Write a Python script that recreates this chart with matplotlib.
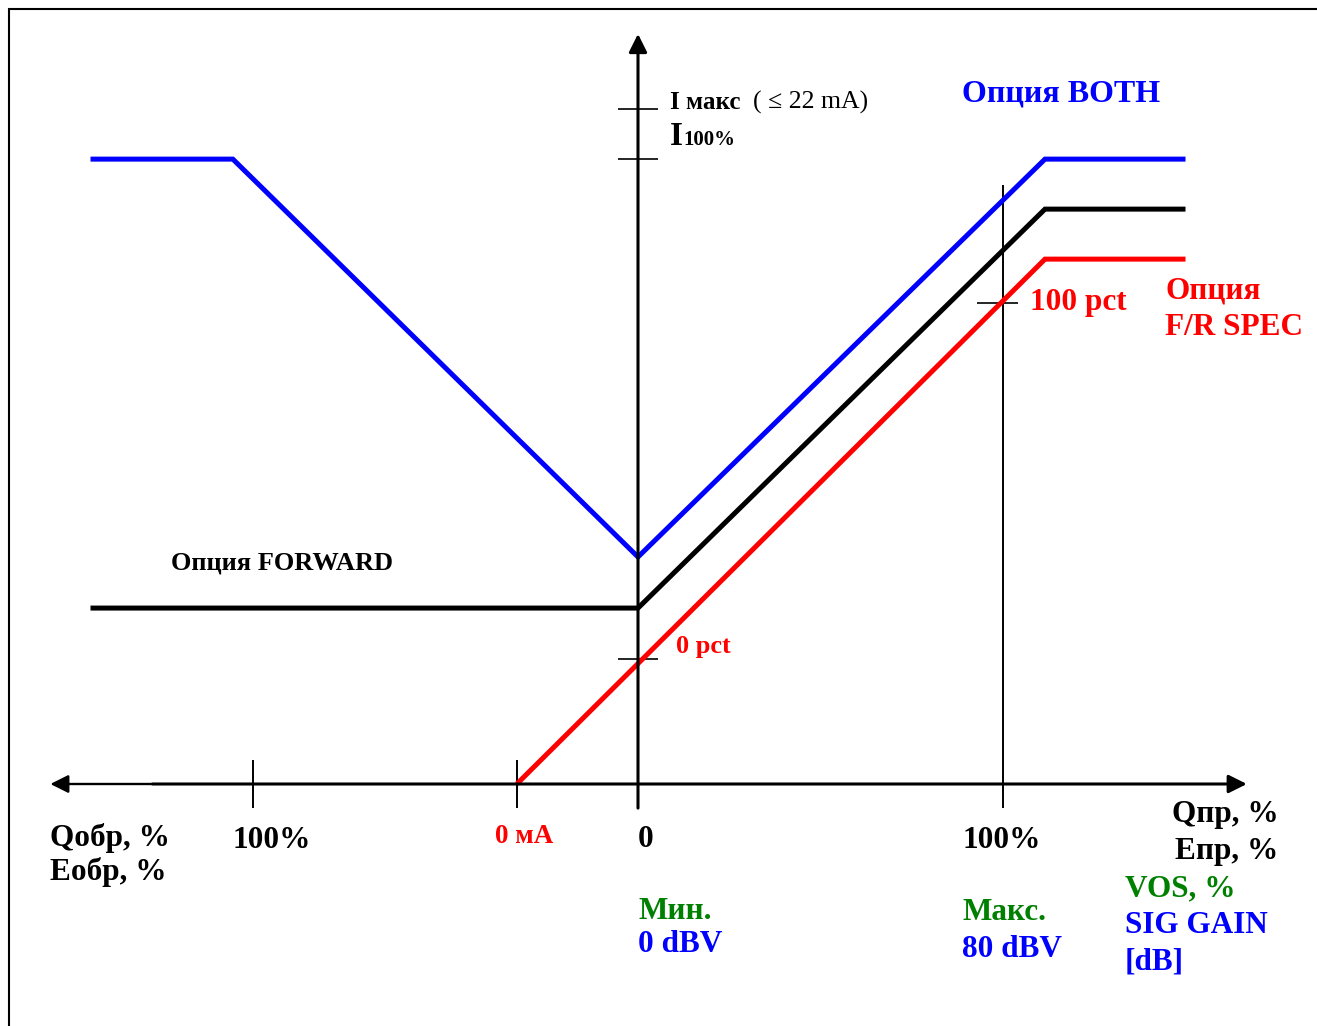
import matplotlib
matplotlib.use("Agg")
import matplotlib.pyplot as plt
from matplotlib.patches import Rectangle

# Characteristic curves: x in % of flow/energy (reverse negative), y in output units
x_both = [-150, -111, 0, 111.5, 150]
y_both = [171.2, 171.2, 62.2, 171.2, 171.2]
x_forward = [-150, 0, 111.5, 150]
y_forward = [48.2, 48.2, 157.5, 157.5]
x_frspec = [-33.2, 111.5, 150]
y_frspec = [0, 143.8, 143.8]

# Marks on the axes
x_ticks = [-105.5, -33.2, 0, 100]
y_ticks = [34.2, 171.2, 184.9]
pct100_level = 131.8

BLUE = "#0000FF"
RED = "#FF0000"
GREEN = "#008000"
BLACK = "#000000"
SERIF = ["Liberation Serif", "DejaVu Serif"]

S = 3.65  # pixels per unit
X0, Y0 = 638, 784
W, H = 1317, 1026

fig = plt.figure(figsize=(W / 100, H / 100), dpi=100)
ax = fig.add_axes([0, 0, 1, 1])
ax.set_xlim(-X0 / S, (W - X0) / S)
ax.set_ylim(-(H - Y0) / S, Y0 / S)
ax.axis("off")

# outer frame
fig.patches.append(Rectangle((9 / W, -0.1), 1.2, 1 - 9 / H + 0.1, transform=fig.transFigure,
                             fill=False, edgecolor=BLACK, lw=1.5))

# axes with arrowheads
arrow = dict(arrowstyle="-|>,head_length=1.1,head_width=0.55", lw=2.2,
             color=BLACK, shrinkA=0, shrinkB=0)
ax.annotate("", xy=(166.8, 0), xytext=(-133, 0), arrowprops=arrow)
ax.annotate("", xy=(-161, 0), xytext=(-133, 0), arrowprops=dict(arrow, lw=1.7))
ax.annotate("", xy=(0, 205.5), xytext=(0, -6.6), arrowprops=arrow)

# ticks on horizontal axis
for xt in x_ticks:
    if xt == 100:
        ax.plot([xt, xt], [-6.6, 164], color=BLACK, lw=1.4, solid_capstyle="butt")
    elif xt != 0:
        ax.plot([xt, xt], [-6.6, 6.6], color=BLACK, lw=1.4, solid_capstyle="butt")
# ticks on vertical axis
for yt in y_ticks:
    ax.plot([-5.5, 5.5], [yt, yt], color=BLACK, lw=1.2, solid_capstyle="butt")
ax.plot([100 - 7, 100 + 4], [pct100_level, pct100_level], color=BLACK, lw=1.2,
        solid_capstyle="butt")

# curves
line_kw = dict(lw=3.6, solid_joinstyle="miter", solid_capstyle="butt")
ax.plot(x_both, y_both, color=BLUE, **line_kw)
ax.plot(x_forward, y_forward, color=BLACK, **line_kw)
ax.plot(x_frspec, y_frspec, color=RED, **line_kw)


def label(px, py, s, color=BLACK, size=22.5, weight="bold", ha="left"):
    ax.text((px - X0) / S, (Y0 - py) / S, s, color=color, fontsize=size,
            fontweight=weight, family=SERIF, ha=ha, va="baseline")


label(670, 109, "I макс", size=18)
label(753, 109, "( ≤ 22 mA)", size=18.5, weight="normal")
label(670, 145, "I", size=24)
label(683, 145, "100%", size=15)
label(962, 101, "Опция BOTH", color=BLUE, size=23)
label(171, 569, "Опция FORWARD", size=19)
label(1030, 310, "100 pct", color=RED)
label(1165, 299, "Опция", color=RED)
label(1165, 335, "F/R SPEC", color=RED)
label(676, 653, "0 pct", color=RED, size=19)

label(50, 846, "Qобр, %")
label(50, 880, "Еобр, %")
label(232, 848, "100%")
label(495, 843, "0 мА", color=RED, size=19.5)
label(638, 847, "0")
label(962, 848, "100%")
label(1279, 822, "Qпр, %", ha="right")
label(1278, 859, "Епр, %", ha="right")
label(1125, 896, "VOS, %", color=GREEN)
label(1125, 933, "SIG GAIN", color=BLUE)
label(1125, 969, "[dB]", color=BLUE)
label(638, 919, "Мин.", color=GREEN)
label(638, 952, "0 dBV", color=BLUE)
label(962, 920, "Макс.", color=GREEN)
label(962, 957, "80 dBV", color=BLUE)

fig.savefig("out.png", dpi=100)
